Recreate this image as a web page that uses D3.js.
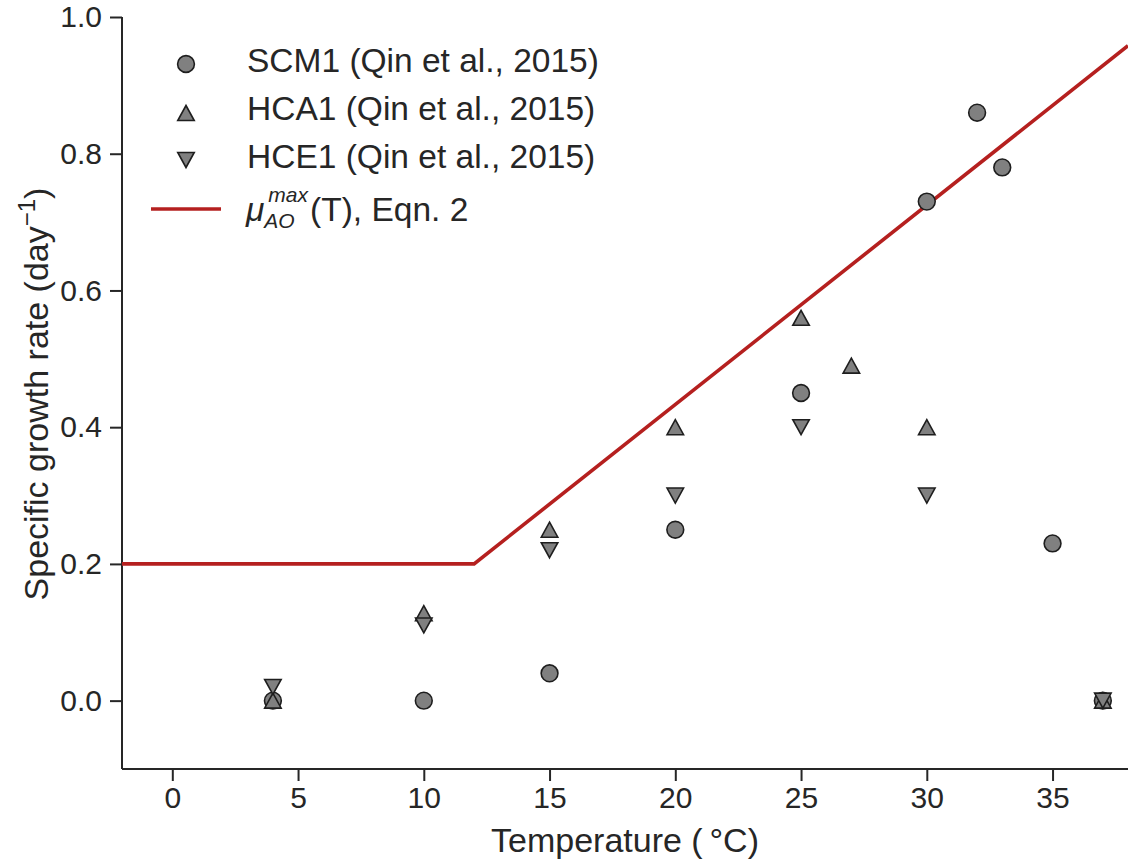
<!DOCTYPE html>
<html>
<head>
<meta charset="utf-8">
<script src="https://cdn.jsdelivr.net/npm/d3@7"></script>
<style>
  html, body { margin: 0; padding: 0; background: #fff; }
  svg { display: block; font-family: "Liberation Sans", Arial, Helvetica, sans-serif; }
</style>
</head>
<body>
<svg id="chart" width="1128" height="867"></svg>
<script>
// ---- data ----
const scmTemp = [4, 10, 15, 20, 25, 30, 32, 33, 35, 37];
const scmRate = [0.0, 0.0, 0.04, 0.25, 0.45, 0.73, 0.86, 0.78, 0.23, 0.0];
const hcaTemp = [4, 10, 15, 20, 25, 27, 30, 37];
const hcaRate = [0.0, 0.128, 0.25, 0.40, 0.56, 0.49, 0.40, 0.0];
const hceTemp = [4, 10, 15, 20, 25, 30, 37];
const hceRate = [0.02, 0.11, 0.22, 0.30, 0.40, 0.30, 0.0];
const eqnTemp = [-2, 12, 38];
const eqnRate = [0.2, 0.2, 0.958];
const xTicks = [0, 5, 10, 15, 20, 25, 30, 35];
const yTicks = [0.0, 0.2, 0.4, 0.6, 0.8, 1.0];
const seriesLabels = ["SCM1 (Qin et al., 2015)", "HCA1 (Qin et al., 2015)", "HCE1 (Qin et al., 2015)"];

// ---- layout ----
const svg = d3.select("#chart");
const L = 122, R = 1128, T = 17, B = 769;
const x = d3.scaleLinear().domain([-2, 38]).range([L, R]);
const y = d3.scaleLinear().domain([-0.1, 1.0]).range([B, T]);
const axisColor = "#262626";
const red = "#b5201f";
const fill = "#808080";
const edge = "#1e1e1e";
const textColor = "#262626";

// axes
const xAxis = svg.append("g").attr("transform", `translate(0,${B})`)
  .call(d3.axisBottom(x).tickValues(xTicks).tickFormat(d3.format("d")).tickSizeOuter(0).tickSize(12).tickPadding(6));
const yAxis = svg.append("g").attr("transform", `translate(${L},0)`)
  .call(d3.axisLeft(y).tickValues(yTicks).tickFormat(d3.format(".1f")).tickSizeOuter(0).tickSize(12).tickPadding(8));
[xAxis, yAxis].forEach(g => {
  g.select(".domain").attr("stroke", axisColor).attr("stroke-width", 2);
  g.selectAll(".tick line").attr("stroke", axisColor).attr("stroke-width", 2);
  g.selectAll(".tick text").attr("fill", textColor).style("font-size", "30px")
   .style("font-family", '"Liberation Sans", Arial, sans-serif');
});
yAxis.select(".domain").attr("d", `M0,${B}V${T}`);
xAxis.select(".domain").attr("d", `M0,0H${R - L}`).attr("transform", `translate(${L},0)`);

// axis labels
svg.append("text").attr("x", 625).attr("y", 852).attr("text-anchor", "middle")
  .attr("fill", textColor).style("font-size", "34px").text("Temperature (\u2009\u00B0C)");
const yl = svg.append("text").attr("transform", "translate(48,394) rotate(-90)")
  .attr("text-anchor", "middle").attr("fill", textColor).style("font-size", "34px");
yl.append("tspan").text("Specific growth rate (day");
yl.append("tspan").attr("dy", -13).style("font-size", "24px").text("\u22121");
yl.append("tspan").attr("dy", 13).text(")");

// equation line
const line = d3.line().x(d => x(d[0])).y(d => y(d[1]));
svg.append("path").datum(eqnTemp.map((t, i) => [t, eqnRate[i]]))
  .attr("d", line).attr("fill", "none").attr("stroke", red).attr("stroke-width", 3.6)
  .attr("stroke-linejoin", "miter");

// marker shapes
const circlePath = r => d3.symbol().type(d3.symbolCircle).size(Math.PI * r * r)();
function triPath(up, w, h) {
  const s = up ? 1 : -1;
  return `M0,${-s * h / 2}L${w / 2},${s * h / 2}L${-w / 2},${s * h / 2}Z`;
}
const shapes = [circlePath(8.4), triPath(true, 16.5, 15), triPath(false, 16.5, 15)];
const series = [
  scmTemp.map((t, i) => [t, scmRate[i]]),
  hcaTemp.map((t, i) => [t, hcaRate[i]]),
  hceTemp.map((t, i) => [t, hceRate[i]])
];
series.forEach((pts, k) => {
  svg.append("g").selectAll("path").data(pts).join("path")
    .attr("d", shapes[k])
    .attr("transform", d => `translate(${x(d[0])},${y(d[1])})`)
    .attr("fill", fill).attr("stroke", edge).attr("stroke-width", 1.6);
});

// legend
const legY = [64, 113, 160];
const legTextY = [72, 120, 168];
seriesLabels.forEach((lab, k) => {
  svg.append("path").attr("d", shapes[k]).attr("transform", `translate(186,${legY[k]})`)
    .attr("fill", fill).attr("stroke", edge).attr("stroke-width", 1.6);
  svg.append("text").attr("x", 247).attr("y", legTextY[k]).attr("fill", textColor)
    .style("font-size", "33.5px").text(lab);
});
svg.append("line").attr("x1", 151).attr("x2", 221).attr("y1", 209).attr("y2", 209)
  .attr("stroke", red).attr("stroke-width", 3.6);
// equation label as one text element with stacked sub/superscript
const eq = svg.append("text").attr("x", 246).attr("y", 221).attr("fill", textColor)
  .style("font-size", "33.5px");
const tMu = eq.append("tspan").style("font-style", "italic").text("\u03BC");
const muW = tMu.node().getComputedTextLength();
const tSub = eq.append("tspan").attr("x", 246 + muW).attr("y", 228)
  .style("font-size", "21px").style("font-style", "italic").text("AO");
const subW = tSub.node().getComputedTextLength();
const tSup = eq.append("tspan").attr("x", 246 + muW + 4).attr("y", 202)
  .style("font-size", "21px").style("font-style", "italic").text("max");
const supW = tSup.node().getComputedTextLength();
const endX = Math.max(246 + muW + subW, 246 + muW + 4 + supW);
eq.append("tspan").attr("x", endX + 2).attr("y", 221).text("(T), Eqn. 2");
</script>
</body>
</html>
